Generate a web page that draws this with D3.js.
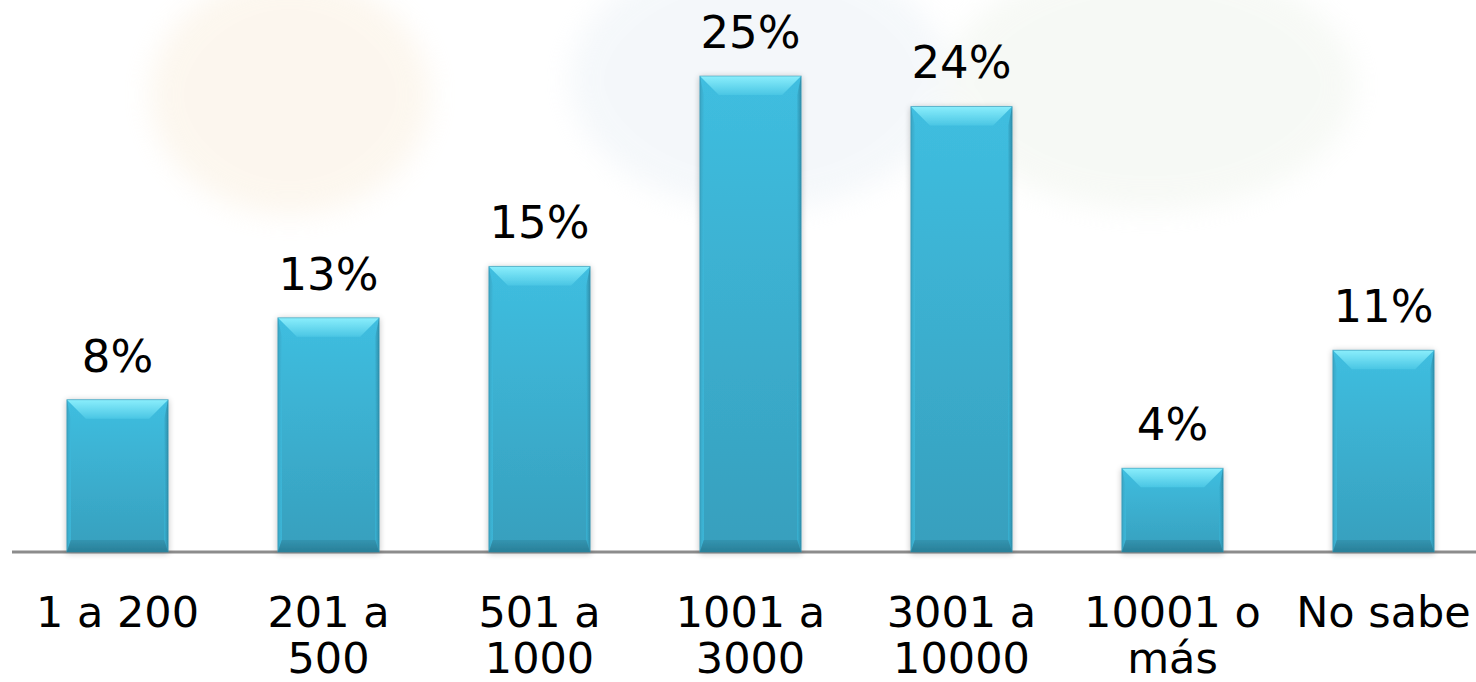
<!DOCTYPE html>
<html>
<head>
<meta charset="utf-8">
<script src="https://cdn.jsdelivr.net/npm/d3@7"></script>
<style>
  html, body { margin: 0; padding: 0; background: #fff; }
  svg { display: block; }
  text { font-family: "DejaVu Sans", Verdana, sans-serif; fill: #000; }
</style>
</head>
<body>
<script>
var w = 1476
var h = 682

// data
var categories = ["1 a 200", "201 a 500", "501 a 1000", "1001 a 3000", "3001 a 10000", "10001 o más", "No sabe"]
var labelLines = [["1 a 200"], ["201 a", "500"], ["501 a", "1000"], ["1001 a", "3000"], ["3001 a", "10000"], ["10001 o", "más"], ["No sabe"]]
var values = [8.0, 12.3, 15.0, 25.0, 23.4, 4.4, 10.6]
var valueLabels = ["8%", "13%", "15%", "25%", "24%", "4%", "11%"]

var baseY = 552

var x = d3.scaleBand()
  .domain(categories)
  .range([12, 1489])
  .paddingInner(0.52)
  .paddingOuter(0.26)

var y = d3.scaleLinear()
  .domain([0, 25])
  .range([baseY, 76])

var svg = d3.select("body")
  .append("svg")
  .attr("width", w)
  .attr("height", h)

var defs = svg.append("defs")

var blur = defs.append("filter").attr("id", "wm").attr("x", "-50%").attr("y", "-50%").attr("width", "200%").attr("height", "200%")
blur.append("feGaussianBlur").attr("stdDeviation", 14)

var shadow = defs.append("filter").attr("id", "shadow").attr("x", "-20%").attr("y", "-20%").attr("width", "140%").attr("height", "140%")
shadow.append("feGaussianBlur").attr("in", "SourceAlpha").attr("stdDeviation", 3)
shadow.append("feOffset").attr("dx", 0).attr("dy", 1).attr("result", "b")
shadow.append("feComponentTransfer").append("feFuncA").attr("type", "linear").attr("slope", 0.25)
var merge = shadow.append("feMerge")
merge.append("feMergeNode")
merge.append("feMergeNode").attr("in", "SourceGraphic")

function grad(id, x2, y2, stops) {
  var g = defs.append("linearGradient").attr("id", id)
    .attr("x1", 0).attr("y1", 0).attr("x2", x2).attr("y2", y2)
  stops.forEach(function(s) {
    g.append("stop").attr("offset", s[0]).attr("stop-color", s[1])
  })
}
grad("body", 0, 1, [[0, "#3fbee0"], [1, "#379fbd"]])
grad("top", 0, 1, [[0, "#8aeefc"], [1, "#4ac6e4"]])
grad("left", 1, 0, [[0, "#3aa6c4"], [1, "#3cb8da"]])
grad("right", 1, 0, [[0, "#3ab3d4"], [1, "#2f8fab"]])
grad("bottom", 0, 1, [[0, "#3294b0"], [1, "#2a7f98"]])

// faint watermark in the background
var wm = svg.append("g").attr("filter", "url(#wm)").attr("opacity", 0.35)
wm.append("ellipse").attr("cx", 290).attr("cy", 95).attr("rx", 140).attr("ry", 120).attr("fill", "#f8e8d0")
wm.append("ellipse").attr("cx", 760).attr("cy", 80).attr("rx", 190).attr("ry", 130).attr("fill", "#e2ebf3")
wm.append("ellipse").attr("cx", 1150).attr("cy", 85).attr("rx", 205).attr("ry", 125).attr("fill", "#e8efe4")

// axis line
svg.append("line")
  .attr("x1", 12).attr("x2", w)
  .attr("y1", baseY).attr("y2", baseY)
  .attr("stroke", "#8c8c8c")
  .attr("stroke-width", 3)

var bw = x.bandwidth()
var bev = 19, bevB = 12, side = 4

var bars = svg.selectAll(".bar")
  .data(values)
  .enter().append("g")
  .attr("class", "bar")
  .attr("filter", "url(#shadow)")
  .attr("transform", function(d, i) { return "translate(" + x(categories[i]) + "," + y(d) + ")" })

bars.append("rect")
  .attr("width", bw)
  .attr("height", function(d) { return baseY - y(d) })
  .attr("fill", "url(#body)")

bars.append("path")
  .attr("fill", "url(#left)")
  .attr("d", function(d) {
    var hh = baseY - y(d)
    return "M0,0L" + side + "," + bev + "L" + side + "," + (hh - bevB) + "L0," + hh + "Z"
  })

bars.append("path")
  .attr("fill", "url(#right)")
  .attr("d", function(d) {
    var hh = baseY - y(d)
    return "M" + bw + ",0L" + (bw - side) + "," + bev + "L" + (bw - side) + "," + (hh - bevB) + "L" + bw + "," + hh + "Z"
  })

bars.append("path")
  .attr("fill", "url(#bottom)")
  .attr("d", function(d) {
    var hh = baseY - y(d)
    return "M0," + hh + "L" + side + "," + (hh - bevB) + "L" + (bw - side) + "," + (hh - bevB) + "L" + bw + "," + hh + "Z"
  })

bars.append("path")
  .attr("fill", "url(#top)")
  .attr("d", "M0,0L" + bw + ",0L" + (bw - bev) + "," + bev + "L" + bev + "," + bev + "Z")

bars.append("rect")
  .attr("width", bw)
  .attr("height", function(d) { return baseY - y(d) })
  .attr("fill", "none")
  .attr("stroke", "#2e8aa5")
  .attr("stroke-opacity", 0.5)
  .attr("stroke-width", 1)

// value labels
svg.selectAll(".val")
  .data(values)
  .enter().append("text")
  .attr("class", "val")
  .attr("x", function(d, i) { return x(categories[i]) + bw / 2 })
  .attr("y", function(d) { return y(d) - 28 })
  .attr("text-anchor", "middle")
  .style("font-size", "45px")
  .text(function(d, i) { return valueLabels[i] })

// category labels
var cat = svg.selectAll(".cat")
  .data(categories)
  .enter().append("text")
  .attr("class", "cat")
  .attr("x", function(d) { return x(d) + bw / 2 })
  .attr("y", 627)
  .attr("text-anchor", "middle")
  .style("font-size", "43px")

cat.selectAll("tspan")
  .data(function(d, i) { return labelLines[i] })
  .enter().append("tspan")
  .attr("x", function() { return d3.select(this.parentNode).attr("x") })
  .attr("dy", function(d, j) { return j ? 46 : 0 })
  .text(function(d) { return d })
</script>
</body>
</html>
